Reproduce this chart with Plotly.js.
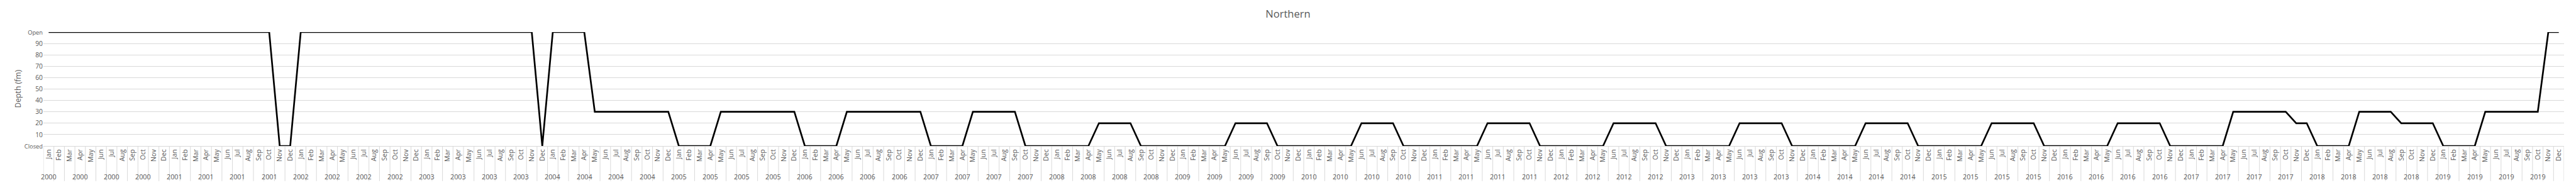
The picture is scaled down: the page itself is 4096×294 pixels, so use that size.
<!DOCTYPE html>
<html>
<head>
<meta charset="utf-8">
<script src="https://cdn.plot.ly/plotly-3.0.1.min.js"></script>
<style>
html,body{margin:0;padding:0;background:#fff;overflow:hidden}
#chart{width:4096px;height:294px}
</style>
</head>
<body>
<div id="chart"></div>
<script>
// ---- data ----
const years = [2000,2001,2002,2003,2004,2005,2006,2007,2008,2009,
               2010,2011,2012,2013,2014,2015,2016,2017,2018,2019];
const monthNames = ['Jan','Feb','Mar','Apr','May','Jun','Jul','Aug','Sep','Oct','Nov','Dec'];
// depth limit (fm), one value per month, Jan 2000 .. Dec 2019; 100 = Open, 0 = Closed
const depth = [
  100,100,100,100,100,100,100,100,100,100,100,100, // 2000
  100,100,100,100,100,100,100,100,100,100,  0,  0, // 2001
  100,100,100,100,100,100,100,100,100,100,100,100, // 2002
  100,100,100,100,100,100,100,100,100,100,100,  0, // 2003
  100,100,100,100, 30, 30, 30, 30, 30, 30, 30, 30, // 2004
    0,  0,  0,  0, 30, 30, 30, 30, 30, 30, 30, 30, // 2005
    0,  0,  0,  0, 30, 30, 30, 30, 30, 30, 30, 30, // 2006
    0,  0,  0,  0, 30, 30, 30, 30, 30,  0,  0,  0, // 2007
    0,  0,  0,  0, 20, 20, 20, 20,  0,  0,  0,  0, // 2008
    0,  0,  0,  0,  0, 20, 20, 20, 20,  0,  0,  0, // 2009
    0,  0,  0,  0,  0, 20, 20, 20, 20,  0,  0,  0, // 2010
    0,  0,  0,  0,  0, 20, 20, 20, 20, 20,  0,  0, // 2011
    0,  0,  0,  0,  0, 20, 20, 20, 20, 20,  0,  0, // 2012
    0,  0,  0,  0,  0, 20, 20, 20, 20, 20,  0,  0, // 2013
    0,  0,  0,  0,  0, 20, 20, 20, 20, 20,  0,  0, // 2014
    0,  0,  0,  0,  0, 20, 20, 20, 20, 20,  0,  0, // 2015
    0,  0,  0,  0,  0, 20, 20, 20, 20, 20,  0,  0, // 2016
    0,  0,  0,  0, 30, 30, 30, 30, 30, 30, 20, 20, // 2017
    0,  0,  0,  0, 30, 30, 30, 30, 20, 20, 20, 20, // 2018
    0,  0,  0,  0, 30, 30, 30, 30, 30, 30,100,100  // 2019
];
const yTickVals = [0,10,20,30,40,50,60,70,80,90,100];
const yTickText = ['Closed','10','20','30','40','50','60','70','80','90','Open'];
const yearLabelEvery = 3;   // a year label under every third month
const chartTitle = 'Northern';
const yTitle = 'Depth (fm)';

// ---- derived ----
const S = 0.663;                 // scale from reference size
const W = 4096, H = 294;
const M = {l: 68.5, r: 19, t: 50.8, b: 62.4};
const plotH = H - M.t - M.b;
const grey = '#595959', light = '#d9d9d9';
const FONT = '"Open Sans", "DejaVu Sans", sans-serif';

const idx = depth.map((_, i) => i);
const monthLabels = idx.map(i => monthNames[i % 12]);
const yearOfIdx = idx.map(i => years[Math.floor(i / 12)]);

const smallTxt = t => (t === 'Open' || t === 'Closed')
  ? '<span style="font-size:9.3px">' + t + '</span>' : t;

// separators between every month, reaching through both label rows
const sepDepth = 55.7 / plotH;
const shapes = [];
for (let k = 0; k <= idx.length; k++) {
  shapes.push({type: 'line', xref: 'x', yref: 'paper',
    x0: k - 0.5, x1: k - 0.5, y0: 0, y1: -sepDepth,
    line: {color: light, width: 1}});
}

// year labels
const annotations = [];
idx.filter(i => i % yearLabelEvery === 0).forEach(i => {
  annotations.push({xref: 'x', yref: 'paper', x: i, y: -48.6 / plotH,
    text: String(yearOfIdx[i]), showarrow: false, xanchor: 'center', yanchor: 'middle',
    font: {family: FONT, size: 10.8, color: grey}});
});
// y-axis title
annotations.push({xref: 'paper', yref: 'paper',
  x: (27.6 - M.l) / (W - M.l - M.r), y: 0.5, text: yTitle, textangle: -90,
  showarrow: false, xanchor: 'center', yanchor: 'middle',
  font: {family: FONT, size: 12.2, color: grey}});

const trace = {
  x: idx, y: depth, type: 'scatter', mode: 'lines',
  line: {color: '#000000', width: 2.7},
  hoverinfo: 'skip', showlegend: false
};

const layout = {
  width: W, height: H,
  margin: M,
  paper_bgcolor: '#ffffff', plot_bgcolor: '#ffffff',
  showlegend: false,
  title: {text: chartTitle, x: 0.5, xref: 'container', y: 1 - 22.5 / H, yref: 'container',
    xanchor: 'center', yanchor: 'middle',
    font: {family: FONT, size: 16.6, color: grey}},
  xaxis: {
    range: [-0.5, idx.length - 0.5], fixedrange: true,
    tickmode: 'array', tickvals: idx, ticktext: monthLabels, tickangle: -90,
    ticks: '', showgrid: false, zeroline: false,
    showline: true, linecolor: light, linewidth: 1,
    tickfont: {family: FONT, size: 10.6, color: grey},
    automargin: false
  },
  yaxis: {
    range: [0, 100], fixedrange: true,
    tickmode: 'array', tickvals: yTickVals, ticktext: yTickText.map(smallTxt),
    ticks: '', showgrid: true, gridcolor: light, gridwidth: 1,
    zeroline: false, showline: false,
    tickfont: {family: FONT, size: 10.3, color: grey},
    automargin: false
  },
  shapes: shapes,
  annotations: annotations
};

Plotly.newPlot('chart', [trace], layout, {staticPlot: true, displayModeBar: false});
</script>
</body>
</html>
